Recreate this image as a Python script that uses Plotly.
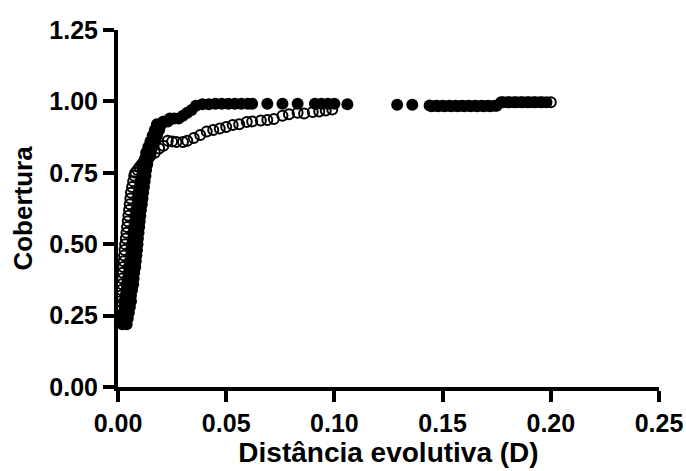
import plotly.graph_objects as go

# ---- data ----
x_ticks = [0.0, 0.05, 0.10, 0.15, 0.20, 0.25]
x_tick_labels = ["0.00", "0.05", "0.10", "0.15", "0.20", "0.25"]
y_ticks = [0.0, 0.25, 0.50, 0.75, 1.00, 1.25]
y_tick_labels = ["0.00", "0.25", "0.50", "0.75", "1.00", "1.25"]

# filled circles series
filled_x = [
    0.002, 0.004, 0.002, 0.0045, 0.0025, 0.005, 0.003, 0.0055, 0.003, 0.006,
    0.0035, 0.006, 0.004, 0.0065, 0.004, 0.007, 0.0045, 0.0072, 0.005, 0.0075,
    0.005, 0.008, 0.0055, 0.0082, 0.006, 0.0085, 0.006, 0.0088, 0.0065, 0.009,
    0.007, 0.0092, 0.007, 0.0095, 0.0075, 0.0098, 0.008, 0.010, 0.008, 0.0103,
    0.0085, 0.0106, 0.009, 0.011, 0.009, 0.0113, 0.0095, 0.0116, 0.010, 0.012,
    0.0105, 0.0123, 0.011, 0.0127, 0.0115, 0.013, 0.012, 0.0135, 0.0125, 0.014,
    0.013, 0.015, 0.014, 0.016, 0.015, 0.017, 0.016, 0.018, 0.017, 0.019,
    0.018, 0.020, 0.021, 0.023, 0.024, 0.026, 0.028, 0.030, 0.032, 0.034,
    0.036, 0.039, 0.042, 0.045, 0.048, 0.051, 0.054, 0.057, 0.060, 0.062,
    0.069, 0.076, 0.083, 0.091, 0.094, 0.097, 0.100, 0.106, 0.129, 0.136,
    0.144, 0.147, 0.150, 0.153, 0.156, 0.159, 0.162, 0.165, 0.168, 0.171,
    0.174, 0.177, 0.180, 0.183, 0.186, 0.189, 0.192, 0.195, 0.198,
]
filled_y = [
    0.22, 0.22, 0.24, 0.24, 0.26, 0.26, 0.28, 0.28, 0.30, 0.30,
    0.32, 0.32, 0.34, 0.34, 0.36, 0.36, 0.38, 0.38, 0.40, 0.40,
    0.42, 0.42, 0.44, 0.44, 0.46, 0.46, 0.48, 0.48, 0.50, 0.50,
    0.52, 0.52, 0.54, 0.54, 0.56, 0.56, 0.58, 0.58, 0.60, 0.60,
    0.62, 0.62, 0.64, 0.64, 0.66, 0.66, 0.68, 0.68, 0.70, 0.70,
    0.72, 0.72, 0.74, 0.74, 0.76, 0.76, 0.78, 0.78, 0.80, 0.80,
    0.82, 0.82, 0.84, 0.84, 0.86, 0.86, 0.88, 0.88, 0.90, 0.90,
    0.92, 0.92, 0.93, 0.93, 0.94, 0.94, 0.94, 0.95, 0.96, 0.97,
    0.985, 0.99, 0.99, 0.992, 0.992, 0.992, 0.992, 0.992, 0.992, 0.992,
    0.992, 0.992, 0.992, 0.992, 0.992, 0.992, 0.992, 0.99, 0.988, 0.988,
    0.986, 0.985, 0.985, 0.985, 0.985, 0.985, 0.985, 0.985, 0.985, 0.985,
    0.985, 0.997, 0.997, 0.997, 0.997, 0.997, 0.997, 0.997, 0.997,
]

# open circles series
open_x = [
    0.001, 0.0012, 0.0014, 0.0016, 0.0018, 0.002, 0.0022, 0.0024, 0.0026, 0.0028,
    0.003, 0.0033, 0.0036, 0.0039, 0.0042, 0.0045, 0.0048, 0.0051, 0.0054, 0.0057,
    0.006, 0.0065, 0.007, 0.0075, 0.008, 0.009, 0.010, 0.011, 0.012, 0.013,
    0.015, 0.017, 0.019, 0.021, 0.023, 0.025, 0.027, 0.030, 0.032, 0.035,
    0.038, 0.041, 0.044, 0.047, 0.050, 0.053, 0.056, 0.0595, 0.062, 0.066,
    0.069, 0.072, 0.076, 0.079, 0.083, 0.086, 0.090, 0.093, 0.096, 0.099,
    0.145, 0.148, 0.151, 0.154, 0.157, 0.160, 0.163, 0.166, 0.169, 0.172,
    0.175, 0.178, 0.181, 0.184, 0.187, 0.190, 0.193, 0.196, 0.200,
]
open_y = [
    0.28, 0.30, 0.32, 0.34, 0.36, 0.38, 0.40, 0.42, 0.44, 0.46,
    0.48, 0.50, 0.52, 0.54, 0.56, 0.58, 0.60, 0.62, 0.64, 0.66,
    0.68, 0.70, 0.72, 0.74, 0.75, 0.76, 0.77, 0.78, 0.79, 0.80,
    0.81, 0.82, 0.835, 0.845, 0.862, 0.86, 0.858, 0.858, 0.862, 0.872,
    0.882, 0.895, 0.90, 0.905, 0.91, 0.917, 0.92, 0.928, 0.93, 0.933,
    0.935, 0.938, 0.95, 0.955, 0.96, 0.958, 0.963, 0.965, 0.968, 0.972,
    0.983, 0.983, 0.983, 0.983, 0.983, 0.983, 0.983, 0.983, 0.983, 0.983,
    0.985, 0.997, 0.997, 0.997, 0.997, 0.997, 0.997, 0.997, 0.997,
]

x_title = "Distância evolutiva (D)"
y_title = "Cobertura"

FONT = "Liberation Sans, Arial, sans-serif"

fig = go.Figure()
fig.add_trace(go.Scatter(
    x=filled_x, y=filled_y, mode="markers",
    marker=dict(symbol="circle", size=12, color="black", line=dict(width=0)),
    cliponaxis=False, showlegend=False, hoverinfo="skip",
))
fig.add_trace(go.Scatter(
    x=open_x, y=open_y, mode="markers",
    marker=dict(symbol="circle-open", size=10, color="black",
                line=dict(width=2, color="black")),
    cliponaxis=False, showlegend=False, hoverinfo="skip",
))

axis_common = dict(
    showline=True, linewidth=4, linecolor="black",
    ticks="outside", ticklen=11, tickwidth=4, tickcolor="black",
    showgrid=False, zeroline=False,
    tickfont=dict(family=FONT, size=25, color="black", weight="bold"),
)

fig.update_layout(
    width=686, height=471,
    margin=dict(l=118, r=27, t=30, b=84, autoexpand=False),
    paper_bgcolor="white", plot_bgcolor="white",
    xaxis=dict(range=[0, 0.25], tickvals=x_ticks, ticktext=x_tick_labels,
               title=dict(text=x_title, standoff=6,
                          font=dict(family=FONT, size=28, color="black", weight="bold")),
               **axis_common),
    yaxis=dict(range=[0, 1.25], tickvals=y_ticks, ticktext=y_tick_labels,
               title=dict(text=y_title, standoff=10,
                          font=dict(family=FONT, size=26, color="black", weight="bold")),
               **axis_common),
)

fig.write_html("out.html", config={"displayModeBar": False},
               post_script="document.body.style.margin='0px';")
